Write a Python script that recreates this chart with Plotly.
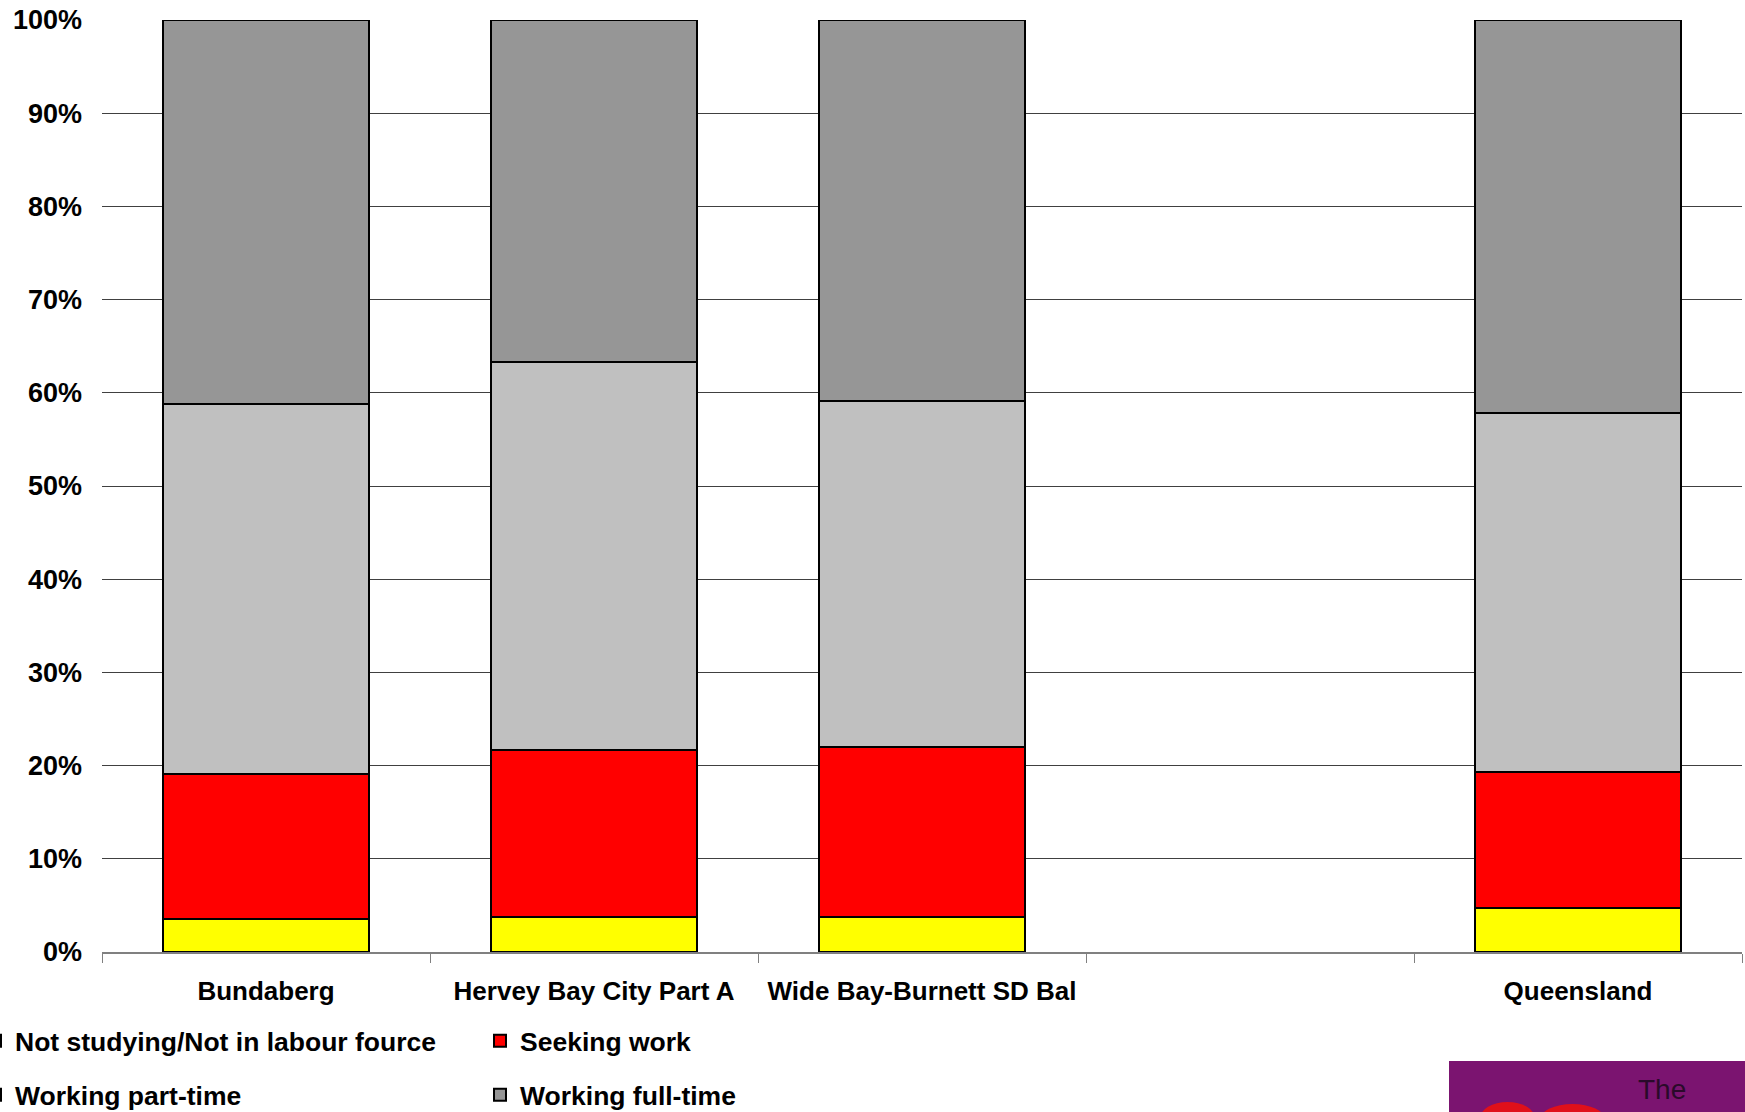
import plotly.graph_objects as go

categories = ["Bundaberg", "Hervey Bay City Part A", "Wide Bay-Burnett SD Bal", " ", "Queensland"]
not_studying = [3.5, 3.75, 3.75, None, 4.7]
seeking_work = [15.6, 17.95, 18.25, None, 14.6]
part_time = [39.75, 41.6, 37.1, None, 38.5]
full_time = [41.15, 36.7, 40.9, None, 42.2]
y_ticks = [0, 10, 20, 30, 40, 50, 60, 70, 80, 90, 100]

series = [
    ("Not studying/Not in labour fource", not_studying, "#FFFF00", "legend"),
    ("Seeking work", seeking_work, "#FF0000", "legend"),
    ("Working part-time", part_time, "#C0C0C0", "legend2"),
    ("Working full-time", full_time, "#969696", "legend2"),
]

FONT = "Liberation Sans, Arial, sans-serif"
W, H = 1745, 1112
ML, MR, MT, MB = 102, 3, 20, 160
PW = W - ML - MR
PH = H - MT - MB


def px_x(x):
    return (x - ML) / PW


def px_y(y):
    return (H - MB - y) / PH


fig = go.Figure()
for name, vals, color, lg in series:
    fig.add_trace(go.Bar(
        x=categories, y=vals, name=name, legend=lg,
        marker=dict(color=color, line=dict(color="#000000", width=2)),
    ))

legend_common = dict(
    orientation="h", xanchor="left", yanchor="middle",
    traceorder="normal", entrywidth=460, entrywidthmode="pixels",
    font=dict(size=26.5, family=FONT, weight="bold", color="#000000"),
    bgcolor="rgba(0,0,0,0)",
)

fig.update_layout(
    barmode="stack",
    bargap=0.372,
    width=W, height=H,
    margin=dict(l=ML, r=MR, t=MT, b=MB, autoexpand=False),
    paper_bgcolor="white", plot_bgcolor="white",
    font=dict(family=FONT, size=26, color="#000000", weight="bold"),
    legend=dict(x=px_x(-25), y=px_y(1041), **legend_common),
    legend2=dict(x=px_x(-25), y=px_y(1095), **legend_common),
    showlegend=True,
)

fig.update_xaxes(
    type="category", categoryorder="array", categoryarray=categories,
    showline=True, linecolor="#808080", linewidth=2,
    ticks="outside", tickson="boundaries", ticklen=9, tickcolor="#808080", tickwidth=1,
    showgrid=False, ticklabelstandoff=15, automargin=False,
    tickfont=dict(size=26, family=FONT, weight="bold", color="#000000"),
)
fig.update_yaxes(
    range=[0, 100], tickvals=y_ticks, ticktext=[f"{v}%" for v in y_ticks],
    showgrid=True, gridcolor="#404040", gridwidth=1,
    zeroline=False, showline=False, ticks="", ticklabelstandoff=19, automargin=False,
    tickfont=dict(size=27, family=FONT, weight="bold", color="#000000"),
)

# logo block (bottom-right corner, cut off by the page edge)
fig.add_shape(type="rect", xref="paper", yref="paper",
              x0=px_x(1449), x1=px_x(1760), y0=px_y(1130), y1=px_y(1061),
              fillcolor="#7B1470", line=dict(width=0), layer="above")
fig.add_shape(type="circle", xref="paper", yref="paper",
              x0=px_x(1480), x1=px_x(1535), y0=px_y(1135), y1=px_y(1102),
              fillcolor="#E0101A", line=dict(width=0), layer="above")
fig.add_shape(type="circle", xref="paper", yref="paper",
              x0=px_x(1540), x1=px_x(1605), y0=px_y(1135), y1=px_y(1104),
              fillcolor="#E0101A", line=dict(width=0), layer="above")
fig.add_annotation(xref="paper", yref="paper", x=px_x(1662), y=px_y(1089),
                   text="The", showarrow=False,
                   font=dict(size=28, color="#2a0a2a", family=FONT, weight="normal"),
                   xanchor="center", yanchor="middle")

fig.write_html("out.html", config={"displayModeBar": False},
               post_script="document.body.style.margin='0';document.body.style.overflow='hidden';")
